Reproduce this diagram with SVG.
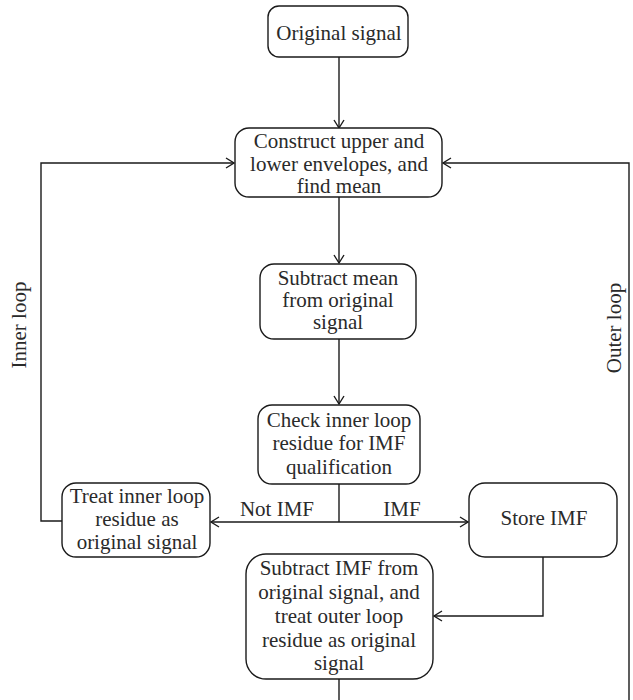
<svg xmlns="http://www.w3.org/2000/svg" width="633" height="700" viewBox="0 0 633 700">
<style>
.box{fill:#fff;stroke:#1a1a1a;stroke-width:1.4}
.t{font-family:"Liberation Serif","Times New Roman",serif;font-size:21px;fill:#2a2a2a;text-anchor:middle}
.c{fill:none;stroke:#1a1a1a;stroke-width:1.4}
</style>
<defs>
<marker id="ah" markerWidth="12" markerHeight="12" refX="9" refY="6" orient="auto" markerUnits="userSpaceOnUse">
<path d="M1,1 L9,6 L1,11" fill="none" stroke="#1a1a1a" stroke-width="1.4"/>
</marker>
</defs>
<rect width="633" height="700" fill="#fff"/>
<g id="connectors">
<path class="c" d="M339,57 V128" marker-end="url(#ah)"/>
<path class="c" d="M339,197 V263" marker-end="url(#ah)"/>
<path class="c" d="M339,339 V404" marker-end="url(#ah)"/>
<path class="c" d="M339,484 V522"/>
<path class="c" d="M339,522 H211" marker-end="url(#ah)"/>
<path class="c" d="M339,522 H468" marker-end="url(#ah)"/>
<path class="c" d="M62,521 H41 V163 H234" marker-end="url(#ah)"/>
<path class="c" d="M543,557 V616 H434" marker-end="url(#ah)"/>
<path class="c" d="M339,679 V700"/>
<path class="c" d="M629,700 V163 H443" marker-end="url(#ah)"/>
<text class="t" x="277" y="516">Not IMF</text>
<text class="t" x="402" y="516">IMF</text>
<text class="t" transform="translate(26,325) rotate(-90)">Inner loop</text>
<text class="t" transform="translate(621,328) rotate(-90)">Outer loop</text>
</g>
<g id="original">
<rect class="box" x="268" y="6" width="140" height="51" rx="11"/>
<text class="t" x="339" y="40">Original signal</text>
</g>
<g id="construct">
<rect class="box" x="235" y="128" width="207" height="69" rx="14"/>
<text class="t" x="339" y="148">Construct upper and</text>
<text class="t" x="339" y="171">lower envelopes, and</text>
<text class="t" x="339" y="193">find mean</text>
</g>
<g id="subtractmean">
<rect class="box" x="260" y="264" width="156" height="75" rx="14"/>
<text class="t" x="338" y="285">Subtract mean</text>
<text class="t" x="338" y="307">from original</text>
<text class="t" x="338" y="329">signal</text>
</g>
<g id="check">
<rect class="box" x="258" y="405" width="162" height="79" rx="14"/>
<text class="t" x="339" y="427">Check inner loop</text>
<text class="t" x="339" y="450">residue for IMF</text>
<text class="t" x="339" y="474">qualification</text>
</g>
<g id="treat">
<rect class="box" x="62" y="483" width="148" height="74" rx="14"/>
<text class="t" x="137" y="503">Treat inner loop</text>
<text class="t" x="137" y="526">residue as</text>
<text class="t" x="137" y="549">original signal</text>
</g>
<g id="store">
<rect class="box" x="469" y="483" width="148" height="74" rx="16"/>
<text class="t" x="544" y="525">Store IMF</text>
</g>
<g id="subtractimf">
<rect class="box" x="246" y="554" width="187" height="125" rx="20"/>
<text class="t" x="339" y="575">Subtract IMF from</text>
<text class="t" x="339" y="599">original signal, and</text>
<text class="t" x="339" y="623">treat outer loop</text>
<text class="t" x="339" y="647">residue as original</text>
<text class="t" x="339" y="670">signal</text>
</g>
</svg>
